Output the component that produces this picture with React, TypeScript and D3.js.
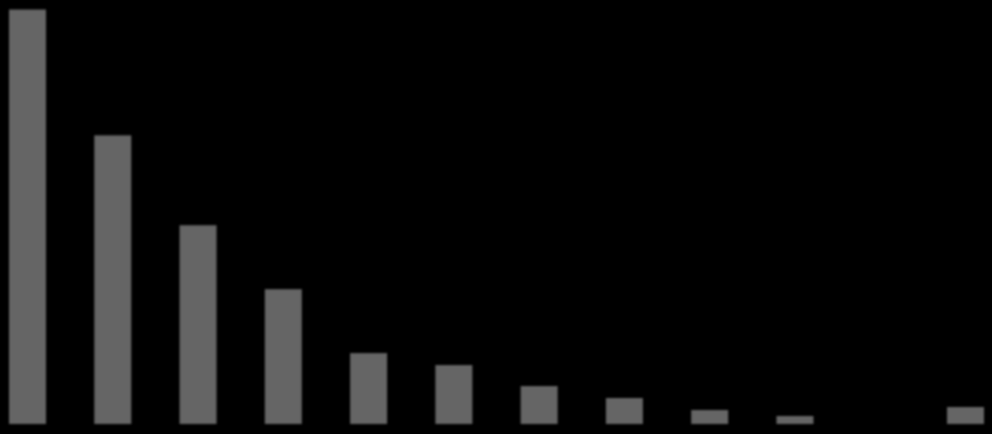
import React, { useEffect, useRef } from "react";
import * as d3 from "d3";

// bar categories and heights
const categories = ["1", "2", "3", "4", "5", "6", "7", "8", "9", "10", "11", "12"];
const values = [415, 289, 199, 135, 71, 59, 38, 26, 14, 8, 0, 17];

const App = () => {
  const svgRef = useRef<SVGSVGElement | null>(null);

  useEffect(() => {
    const width = 992;
    const height = 434;

    const svg = d3.select(svgRef.current);
    svg.selectAll("*").remove(); // clear prev

    svg.attr("width", width).attr("height", height);

    // soft edges like the reference
    svg
      .append("defs")
      .append("filter")
      .attr("id", "soft")
      .attr("x", "-10%")
      .attr("y", "-10%")
      .attr("width", "120%")
      .attr("height", "120%")
      .append("feGaussianBlur")
      .attr("stdDeviation", 1.2);

    svg
      .append("rect")
      .attr("width", width)
      .attr("height", height)
      .attr("fill", "#000");

    const x = d3
      .scaleBand()
      .domain(categories)
      .range([9, 984])
      .paddingInner(0.566)
      .paddingOuter(0);

    const y = d3
      .scaleLinear()
      .domain([0, d3.max(values)!])
      .range([424, 9.5]);

    svg
      .append("g")
      .attr("filter", "url(#soft)")
      .selectAll("rect")
      .data(values)
      .join("rect")
      .attr("x", (_, i) => x(categories[i])!)
      .attr("y", (d) => y(d))
      .attr("width", x.bandwidth())
      .attr("height", (d) => y(0) - y(d))
      .attr("fill", "#656565");
  }, []);

  return (
    <svg
      ref={svgRef}
      style={{ position: "absolute", top: 0, left: 0, display: "block" }}
    ></svg>
  );
};

export default App;
